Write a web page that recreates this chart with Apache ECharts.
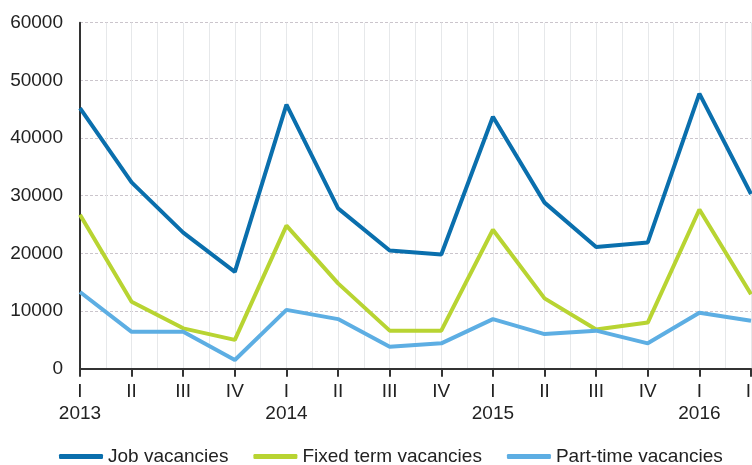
<!DOCTYPE html>
<html>
<head>
<meta charset="utf-8">
<script src="https://cdn.jsdelivr.net/npm/echarts@6/dist/echarts.min.js"></script>
<style>
html,body{margin:0;padding:0;background:#fff;}
#c{width:752px;height:465px;}
</style>
</head>
<body>
<div id="c"></div>
<script>
var quarters = ['I','II','III','IV','I','II','III','IV','I','II','III','IV','I','II'];
var years = ['2013','','','','2014','','','','2015','','','','2016',''];
var jobVacancies = [45200, 32300, 23600, 16800, 45800, 27800, 20500, 19800, 43700, 28800, 21100, 21900, 47700, 30300];
var fixedTermVacancies = [26700, 11600, 7000, 5000, 24800, 14800, 6600, 6600, 24100, 12200, 6800, 8000, 27600, 12900];
var partTimeVacancies = [13300, 6400, 6400, 1500, 10200, 8600, 3800, 4400, 8600, 6000, 6600, 4400, 9700, 8300];
var yTicks = [0, 10000, 20000, 30000, 40000, 50000, 60000];

var cats = quarters.map(function(q, i){ return years[i] ? q + '\n' + years[i] : q; });
var halfCats = [];
cats.forEach(function(c, i){ halfCats.push('c' + i); if (i < cats.length - 1) halfCats.push('h' + i); });

var font = 'Liberation Sans, Arial, sans-serif';
var chart = echarts.init(document.getElementById('c'), null, {renderer: 'canvas'});
chart.setOption({
  animation: false,
  backgroundColor: '#fff',
  color: ['#0a6fad', '#b8d432', '#5daee3'],
  grid: {left: 80, right: 1, top: 22.7, bottom: 96.3, containLabel: false, outerBoundsMode: 'none'},
  legend: {
    left: 54, top: 442,
    icon: 'roundRect', itemWidth: 44, itemHeight: 5, itemGap: 25,
    textStyle: {fontFamily: font, fontSize: 19, color: '#222'},
    data: ['Job vacancies', 'Fixed term vacancies', 'Part-time vacancies']
  },
  xAxis: [{
    type: 'category', data: cats, boundaryGap: false,
    axisLine: {show: true, lineStyle: {color: '#333', width: 2}},
    axisTick: {show: true, length: 8, lineStyle: {color: '#333', width: 2}},
    axisLabel: {interval: 0, margin: 12, fontFamily: font, fontSize: 19, color: '#222', lineHeight: 22},
    splitLine: {show: false}
  }, {
    type: 'category', data: halfCats, boundaryGap: false, position: 'bottom',
    axisLine: {show: false}, axisTick: {show: false}, axisLabel: {show: false},
    splitLine: {show: true, interval: 0, lineStyle: {color: '#e6e8ea', width: 1}}
  }],
  yAxis: {
    type: 'value', min: yTicks[0], max: yTicks[yTicks.length - 1], interval: yTicks[1] - yTicks[0],
    axisLine: {show: true, lineStyle: {color: '#333', width: 2}},
    axisTick: {show: false},
    axisLabel: {margin: 17, fontFamily: font, fontSize: 19, color: '#222', formatter: function(v){ return String(v); }},
    splitLine: {show: true, lineStyle: {color: '#cbc5cc', width: 1, type: [3, 2]}}
  },
  series: [
    {name: 'Job vacancies', type: 'line', data: jobVacancies, showSymbol: false, lineStyle: {width: 4}, z: 3},
    {name: 'Fixed term vacancies', type: 'line', data: fixedTermVacancies, showSymbol: false, lineStyle: {width: 4}, z: 2},
    {name: 'Part-time vacancies', type: 'line', data: partTimeVacancies, showSymbol: false, lineStyle: {width: 4}, z: 2}
  ]
});
</script>
</body>
</html>
